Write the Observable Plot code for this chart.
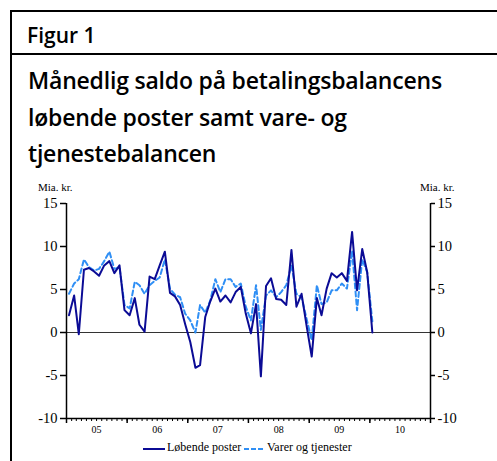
<!DOCTYPE html>
<html><head><meta charset="utf-8">
<script src="https://cdn.jsdelivr.net/npm/d3@7"></script>
<script src="https://cdn.jsdelivr.net/npm/@observablehq/plot@0.6"></script>
<style>
body{margin:0;background:#fff;width:497px;height:461px;overflow:hidden;position:relative;font-family:"Open Sans",sans-serif;color:#000}
.hl{position:absolute;left:10px;width:487px;height:1.5px;background:#000}
.vl{position:absolute;left:10px;top:10px;width:1.5px;height:451px;background:#000}
#fig{position:absolute;left:27px;top:21px;font-size:21px;font-weight:600;line-height:28px}
#title{position:absolute;left:28px;top:62px;font-size:23px;font-weight:600;line-height:36.5px;letter-spacing:-0.2px;white-space:nowrap}
#chart{position:absolute;left:0;top:180px}
.unit{position:absolute;top:181px;font-family:"Liberation Serif",serif;font-size:11px}
#legend{position:absolute;top:440px;left:0;width:497px;font-family:"Liberation Serif",serif;font-size:12px}
#legend span{position:absolute;white-space:nowrap}
</style></head><body>
<div class="vl"></div>
<div class="hl" style="top:10px"></div>
<div class="hl" style="top:53px"></div>
<div id="fig">Figur 1</div>
<div id="title">Månedlig saldo på betalingsbalancens<br>løbende poster samt vare- og<br>tjenestebalancen</div>
<div class="unit" style="left:38px">Mia. kr.</div>
<div class="unit" style="left:420px">Mia. kr.</div>
<div id="chart"></div>
<div id="legend">
<svg style="position:absolute;left:143px;top:7px" width="22" height="4"><line x1="0" y1="2" x2="22" y2="2" stroke="#0b0b95" stroke-width="2"/></svg>
<span style="left:167px;top:0px">Løbende poster</span>
<svg style="position:absolute;left:244px;top:7px" width="20" height="4"><line x1="0" y1="2" x2="20" y2="2" stroke="#2f8ff5" stroke-width="2" stroke-dasharray="5,2"/></svg>
<span style="left:267px;top:0px">Varer og tjenester</span>
</div>
<script>
const months = [
"2005-01","2005-02","2005-03","2005-04","2005-05","2005-06","2005-07","2005-08","2005-09","2005-10","2005-11","2005-12",
"2006-01","2006-02","2006-03","2006-04","2006-05","2006-06","2006-07","2006-08","2006-09","2006-10","2006-11","2006-12",
"2007-01","2007-02","2007-03","2007-04","2007-05","2007-06","2007-07","2007-08","2007-09","2007-10","2007-11","2007-12",
"2008-01","2008-02","2008-03","2008-04","2008-05","2008-06","2008-07","2008-08","2008-09","2008-10","2008-11","2008-12",
"2009-01","2009-02","2009-03","2009-04","2009-05","2009-06","2009-07","2009-08","2009-09","2009-10","2009-11","2009-12",
"2010-01"];
const lobende = [
2.0,4.3,-0.2,7.3,7.5,7.1,6.6,7.8,8.3,6.9,7.8,2.6,
2.0,4.0,0.9,0.1,6.5,6.2,7.8,9.4,4.6,4.2,3.2,1.0,
-1.1,-4.1,-3.8,1.8,3.6,5.1,3.6,4.3,3.5,4.7,5.3,2.2,
-0.1,3.3,-5.1,5.4,6.3,3.9,3.8,3.2,9.6,3.0,4.5,0.8,
-2.8,4.0,2.0,5.1,6.9,6.4,6.9,6.0,11.7,4.9,9.7,7.0,
0.0];
const varer = [
4.5,5.7,6.2,8.5,7.6,7.2,7.4,8.3,9.4,7.4,7.6,3.2,
2.8,5.9,5.5,4.5,5.5,6.0,6.4,8.5,5.1,4.4,4.1,2.2,
1.4,0.0,3.2,2.3,3.7,6.2,4.7,6.2,6.2,5.3,5.7,3.0,
1.4,5.5,0.3,4.3,4.9,4.1,4.7,5.5,7.8,4.5,4.1,1.6,
-0.9,5.5,3.3,3.5,4.9,4.9,5.7,5.1,9.5,2.6,8.5,7.0,
1.3];
const yTicks = [-10,-5,0,5,10,15];
const yearLabels = ["05","06","07","08","09","10"];

const parse = d3.utcParse("%Y-%m");
const data = months.map((m,i)=>({date: d3.utcDay.offset(parse(m),15), lob: lobende[i], vt: varer[i]}));
const start = parse("2005-01"), end = parse("2011-01");
const monthTicks = d3.utcMonth.range(start, d3.utcDay.offset(end,1));
const yearBounds = d3.utcYear.range(start, d3.utcDay.offset(end,1));
const yearMid = yearLabels.map(y => parse("20"+y+"-07"));
const yFmt = d => String(d);

const chart = Plot.plot({
  width:497, height:255,
  marginLeft:66, marginRight:67, marginTop:23, marginBottom:17,
  style:{fontFamily:"'Liberation Serif', serif", fontSize:"14px", background:"transparent", color:"#000"},
  x:{type:"utc", domain:[start,end]},
  y:{domain:[-10,15]},
  marks:[
    Plot.ruleY([0],{stroke:"#333", strokeWidth:1.2}),
    Plot.line(data,{x:"date", y:"vt", stroke:"#2f8ff5", strokeWidth:2, strokeDasharray:"5,3"}),
    Plot.line(data,{x:"date", y:"lob", stroke:"#0b0b95", strokeWidth:2}),
    Plot.ruleX([start],{y1:-10, y2:15, stroke:"#000", strokeWidth:1.5}),
    Plot.ruleX([end],{y1:-10, y2:15, stroke:"#000", strokeWidth:1.5}),
    Plot.ruleY([-10],{stroke:"#000", strokeWidth:1.5}),
    Plot.axisY(yTicks,{anchor:"left", tickSize:6, tickPadding:3, label:null, fontSize:14.5, strokeWidth:1.5, tickFormat:yFmt}),
    Plot.axisY(yTicks,{anchor:"right", tickSize:4, tickPadding:3, label:null, fontSize:14.5, strokeWidth:1.5, tickFormat:yFmt}),
    Plot.axisX(monthTicks,{anchor:"bottom", tickSize:3, tickFormat:()=>"", label:null}),
    Plot.axisX(yearBounds,{anchor:"bottom", tickSize:5, tickFormat:()=>"", label:null, strokeWidth:1.5}),
    Plot.axisX(yearMid,{anchor:"bottom", tickSize:0, tickPadding:7, tickFormat:d3.utcFormat("%y"), label:null, fontSize:10})
  ]
});
document.getElementById("chart").appendChild(chart);
</script>
</body></html>
